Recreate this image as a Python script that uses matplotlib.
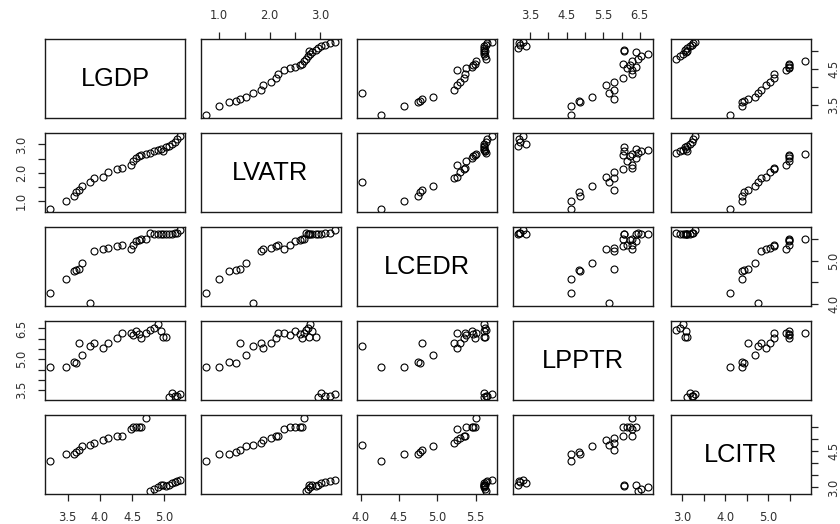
import matplotlib
matplotlib.use("Agg")
import matplotlib.pyplot as plt

names = ["LGDP", "LVATR", "LCEDR", "LPPTR", "LCITR"]

lgdp = [3.23, 3.48, 3.60, 3.63, 3.67, 3.72, 3.85, 3.91, 4.05, 4.13, 4.26, 4.35, 4.48, 4.51, 4.56,
        4.60, 4.64, 4.72, 4.78, 4.84, 4.90, 4.95, 4.98, 5.02, 5.07, 5.12, 5.16, 5.20, 5.24]
lvatr = [0.73, 1.00, 1.19, 1.34, 1.41, 1.53, 1.67, 1.82, 1.86, 2.02, 2.13, 2.17, 2.28, 2.41, 2.51,
         2.59, 2.64, 2.67, 2.71, 2.76, 2.79, 2.83, 2.77, 2.91, 2.96, 3.02, 3.10, 3.19, 3.30]
lcedr = [4.26, 4.57, 4.75, 4.78, 4.80, 4.94, 4.02, 5.22, 5.26, 5.30, 5.35, 5.36, 5.26, 5.37, 5.45,
         5.47, 5.49, 5.51, 5.64, 5.62, 5.61, 5.61, 5.62, 5.61, 5.61, 5.61, 5.64, 5.65, 5.71]
lpptr = [4.63, 4.63, 4.87, 4.83, 5.80, 5.20, 5.67, 5.80, 5.57, 5.80, 6.05, 6.28, 6.28, 6.16, 6.40,
         6.24, 6.04, 6.28, 6.44, 6.52, 6.72, 6.39, 6.08, 6.08, 3.17, 3.39, 3.23, 3.20, 3.30]
lcitr = [4.10, 4.38, 4.38, 4.44, 4.53, 4.70, 4.75, 4.82, 4.95, 5.05, 5.13, 5.13, 5.41, 5.47, 5.48,
         5.48, 5.47, 5.86, 2.85, 2.95, 3.02, 3.08, 3.12, 3.07, 3.12, 3.19, 3.23, 3.26, 3.29]

data = [lgdp, lvatr, lcedr, lpptr, lcitr]

ticks = [
    [3.5, 4.0, 4.5, 5.0],
    [1.0, 1.5, 2.0, 2.5, 3.0],
    [4.0, 4.5, 5.0, 5.5],
    [3.5, 4.0, 4.5, 5.0, 5.5, 6.0, 6.5],
    [3.0, 3.5, 4.0, 4.5, 5.0, 5.5],
]
# labels R kept on the horizontal axes (top / bottom)
xlabs = [
    ["3.5", "4.0", "4.5", "5.0"],
    ["1.0", "", "2.0", "", "3.0"],
    ["4.0", "4.5", "5.0", "5.5"],
    ["3.5", "", "4.5", "", "5.5", "", "6.5"],
    ["3.0", "", "4.0", "", "5.0", ""],
]
# labels on the vertical axes (left / right)
ylabs = [
    ["3.5", "", "4.5", ""],
    ["1.0", "", "2.0", "", "3.0"],
    ["4.0", "", "5.0", ""],
    ["3.5", "", "", "5.0", "", "", "6.5"],
    ["3.0", "", "", "4.5", "", ""],
]

plt.rcParams['font.family'] = ['Liberation Sans', 'DejaVu Sans']

W, H = 840, 524
fig = plt.figure(figsize=(W / 100, H / 100), dpi=100)

col_left = [45, 200.5, 357, 513, 670.5]
row_top = [39, 133, 227, 321, 415]
pw, ph = 140, 79
txt_col = '#303030'


def padded(v):
    lo, hi = min(v), max(v)
    r = hi - lo
    return lo - 0.04 * r, hi + 0.04 * r


for i in range(5):
    for j in range(5):
        ax = fig.add_axes([col_left[j] / W, 1 - (row_top[i] + ph) / H, pw / W, ph / H])
        ax.set_xlim(padded(data[j]))
        ax.set_ylim(padded(data[i]))
        for s in ax.spines.values():
            s.set_linewidth(1.0)
            s.set_color('#1a1a1a')
        if i == j:
            ax.text(0.5, 0.5, names[i], transform=ax.transAxes, ha='center', va='center',
                    fontsize=18.3, color='black')
        else:
            ax.plot(data[j], data[i], 'o', mfc='none', mec='black', ms=5.0, mew=0.8)

        ax.set_xticks([])
        ax.set_yticks([])
        tp = dict(length=5.2, width=0.9, color='#222222', labelsize=8.3, labelcolor=txt_col,
                  pad=7, labelfontfamily='DejaVu Sans')
        if i == 0 and j % 2 == 1:
            ax.set_xticks(ticks[j], xlabs[j])
            ax.xaxis.tick_top()
            ax.tick_params(axis='x', **tp)
        if i == 4 and j % 2 == 0:
            ax.set_xticks(ticks[j], xlabs[j])
            ax.tick_params(axis='x', **tp)
        if j == 0 and i % 2 == 1:
            ax.set_yticks(ticks[i], ylabs[i])
            ax.tick_params(axis='y', labelrotation=90, **tp)
            for t in ax.get_yticklabels():
                t.set_va('center')
        if j == 4 and i % 2 == 0:
            ax.set_yticks(ticks[i], ylabs[i])
            ax.yaxis.tick_right()
            ax.tick_params(axis='y', labelrotation=90, **tp)
            for t in ax.get_yticklabels():
                t.set_va('center')

fig.savefig("out.png", dpi=100)
